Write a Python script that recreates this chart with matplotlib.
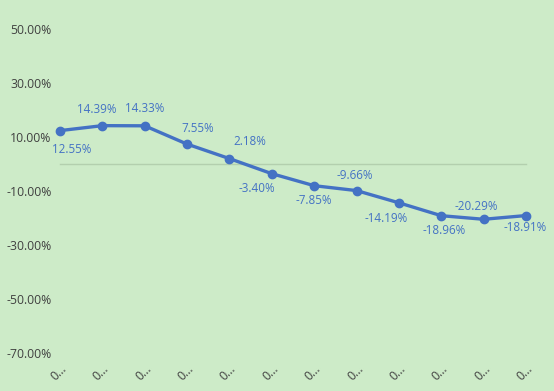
"""
Line chart of percentage change with data labels.
"""

###########
# Imports #
###########

import matplotlib
matplotlib.use("Agg")
import matplotlib.pyplot as plt
from matplotlib.ticker import FuncFormatter

########
# Data #
########

categories = ["0…"] * 12
values = [12.55, 14.39, 14.33, 7.55, 2.18, -3.40, -7.85, -9.66, -14.19, -18.96, -20.29, -18.91]
y_ticks = [50, 30, 10, -10, -30, -50, -70]

# Label offsets in pixels (style only)
label_offsets = [(12, -19), (-6, 16), (0, 17), (11, 16), (20, 17), (-15, -15),
                 (0, -15), (-2, 15), (-13, -16), (3, -15), (-7, 13), (-1, -12)]

#########
# Style #
#########

bg_color = "#CDEBC8"
line_color = "#4472C4"
text_color = "#404040"
plt.rcParams["font.family"] = ["Open Sans", "DejaVu Sans"]

########
# Plot #
########

fig = plt.figure(figsize=(5.54, 3.91), dpi=100, facecolor=bg_color)
ax = fig.add_axes([60 / 554, 1 - 353.5 / 391, 466 / 554, 324 / 391])
ax.set_facecolor(bg_color)

x = list(range(len(values)))
ax.axhline(0, color="#B3CFAE", lw=1, zorder=1)
ax.plot(x, values, color=line_color, lw=2.4, marker="o", markersize=6, zorder=3)

for xi, v, (dx, dy) in zip(x, values, label_offsets):
    ax.annotate(f"{v:.2f}%", (xi, v), xytext=(dx, dy), textcoords="offset pixels",
                ha="center", va="center", color=line_color, fontsize=8.4)

ax.set_xlim(0, len(values) - 1)
ax.set_ylim(-70, 50)
ax.set_yticks(y_ticks)
ax.yaxis.set_major_formatter(FuncFormatter(lambda v, p: f"{v:.2f}%"))
ax.set_xticks(x)
ax.set_xticklabels(categories, rotation=45, ha="right", va="top", rotation_mode="anchor")

ax.tick_params(axis="y", length=0, pad=6, labelsize=8.8, labelcolor=text_color)
ax.tick_params(axis="x", length=0, pad=6, labelsize=8.8, labelcolor=text_color)
for spine in ax.spines.values():
    spine.set_visible(False)
for line in ax.lines:
    line.set_clip_on(False)

plt.savefig("out.png", dpi=100, facecolor=bg_color)
